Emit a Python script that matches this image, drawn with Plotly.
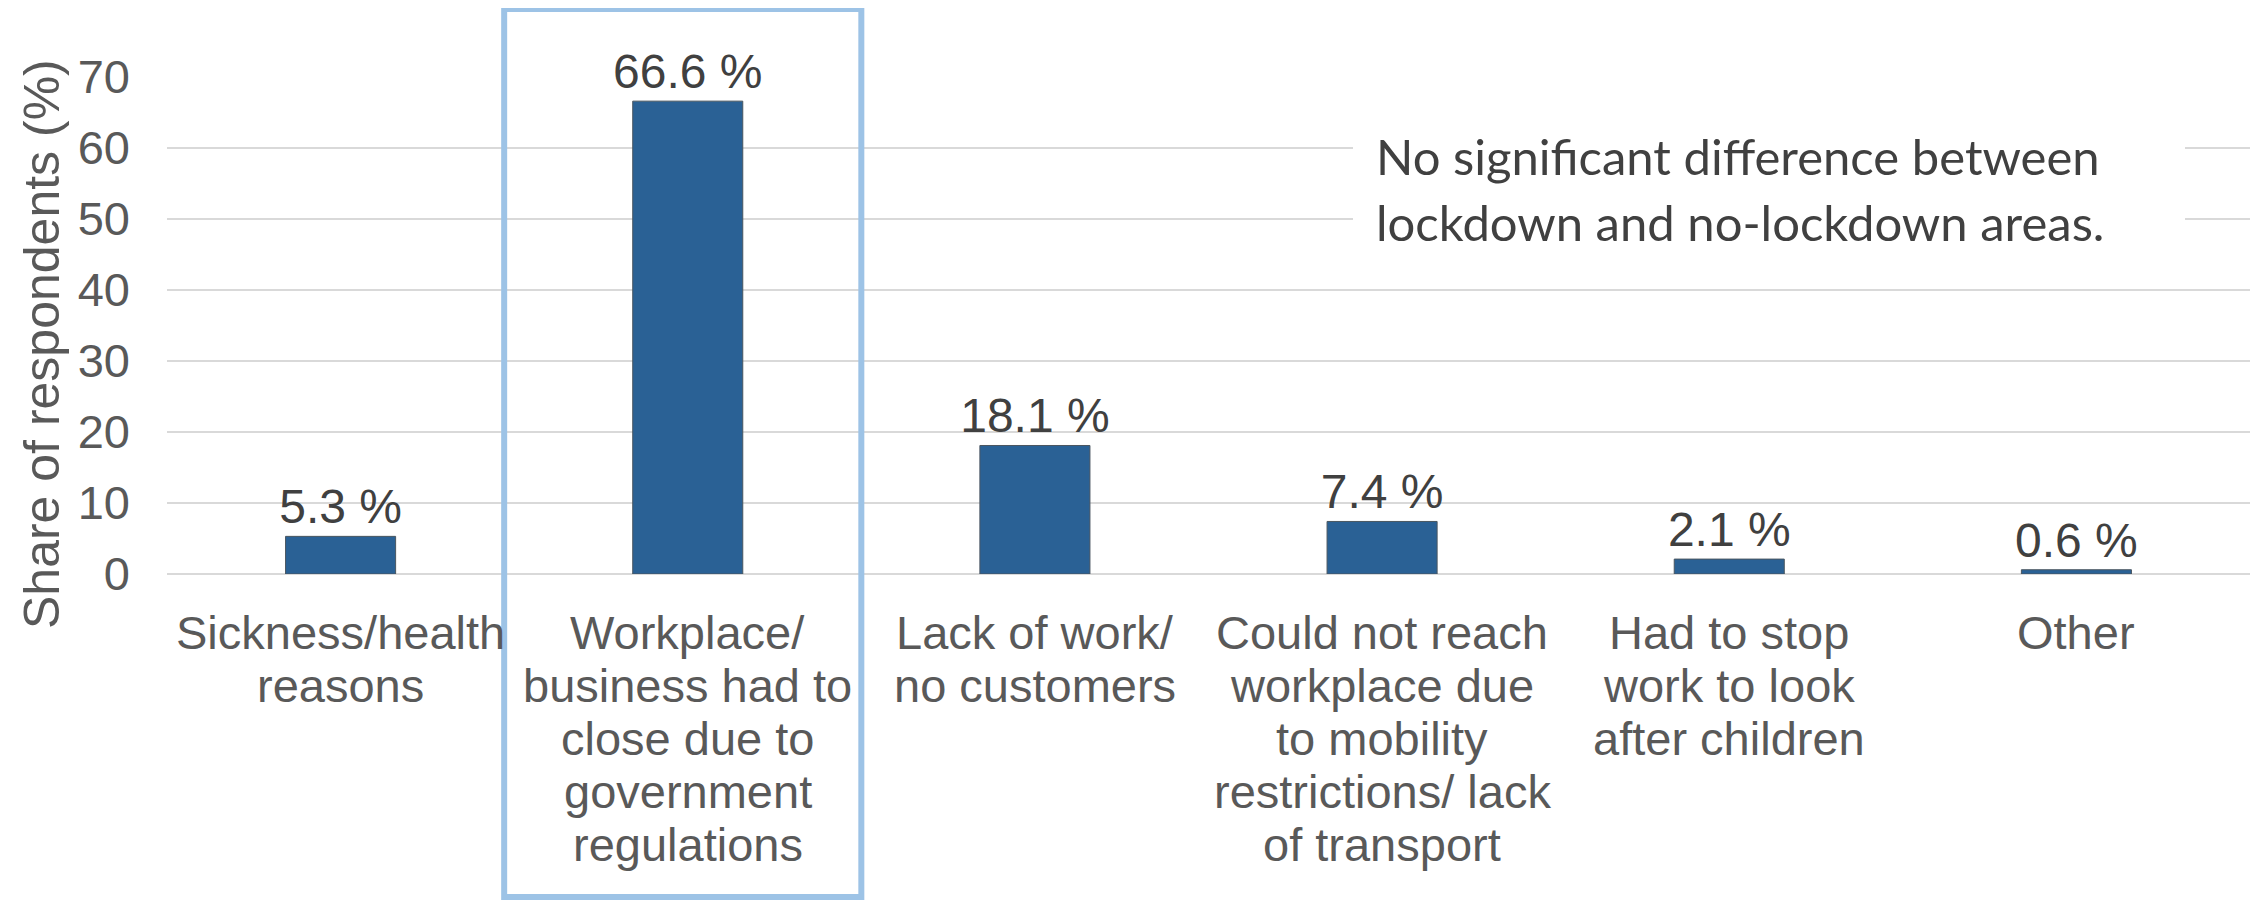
import plotly.graph_objects as go

# ---- data ----
categories = [
    "Sickness/health<br>reasons",
    "Workplace/<br>business had to<br>close due to<br>government<br>regulations",
    "Lack of work/<br>no customers",
    "Could not reach<br>workplace due<br>to mobility<br>restrictions/ lack<br>of transport",
    "Had to stop<br>work to look<br>after children",
    "Other",
]
values = [5.3, 66.6, 18.1, 7.4, 2.1, 0.6]
y_ticks = [0, 10, 20, 30, 40, 50, 60, 70]
y_title = "Share of respondents (%)"
note_lines = ["No significant difference between", "lockdown and no-lockdown areas."]
highlight_index = 1

# ---- layout (screen pixels; page body has an 8px margin) ----
OFF = 8
W, H = 2260, 900
PLOT_L, PLOT_R, PLOT_T, PLOT_B = 167, 2250, 77, 574
ML = PLOT_L - OFF
MT = PLOT_T - OFF
MR = W - (PLOT_R - OFF)
MB = H - (PLOT_B - OFF)
PW = W - ML - MR
PH = H - MT - MB
CW = (PLOT_R - PLOT_L) / len(categories)
ARIAL = "Liberation Sans, Arial, sans-serif"
TXT = "#595959"
LBL = "#404040"


def px_x(sx):
    return (sx - OFF - ML) / PW


def px_y(sy):
    return (H - MB - (sy - OFF)) / PH


fig = go.Figure()
fig.add_trace(go.Bar(
    x=categories,
    y=values,
    marker=dict(color="#2A6195", line=dict(color="#4A5660", width=1)),
    texttemplate="%{y:.1f} %",
    textposition="outside",
    constraintext="none",
    textfont=dict(family=ARIAL, size=48, color=LBL),
    cliponaxis=False,
    showlegend=False,
))

annotations = []
# category labels, one line at a time (tighter line spacing like the source)
line_gap = 53
for cat in categories:
    for i, line in enumerate(cat.split("<br>")):
        annotations.append(dict(
            x=cat, xref="x", y=px_y(632), yref="paper",
            yshift=-line_gap * i, text=line, showarrow=False,
            xanchor="center", yanchor="middle",
            font=dict(family=ARIAL, size=47, color=TXT),
        ))

# y-axis title
annotations.append(dict(
    x=px_x(42), xref="paper", y=px_y(344), yref="paper",
    text=y_title, textangle=-90, showarrow=False,
    xanchor="center", yanchor="middle",
    font=dict(family=ARIAL, size=50, color=TXT),
))

# note text
for i, line in enumerate(note_lines):
    annotations.append(dict(
        x=px_x(1374), xref="paper", y=px_y(156 + 66 * i), yref="paper",
        text=line, showarrow=False, xanchor="left", yanchor="middle",
        font=dict(family="Lato, sans-serif", size=49, color="#404040"),
    ))

shapes = [
    # white background behind note
    dict(type="rect", xref="paper", yref="paper",
         x0=px_x(1353), x1=px_x(2185), y0=px_y(272), y1=px_y(100),
         fillcolor="white", line=dict(width=0), layer="above"),
    # highlight box around category
    dict(type="rect", xref="x", yref="paper",
         x0=highlight_index - 0.5 - 10 / CW, x1=highlight_index + 0.5,
         y0=px_y(897), y1=px_y(9),
         line=dict(color="#9DC3E6", width=6), fillcolor="rgba(0,0,0,0)", layer="above"),
]

fig.update_layout(
    width=W, height=H,
    margin=dict(l=ML, r=MR, t=MT, b=MB),
    paper_bgcolor="white", plot_bgcolor="white",
    bargap=0.683,
    annotations=annotations,
    shapes=shapes,
    xaxis=dict(showticklabels=False, showgrid=False, zeroline=False,
               showline=False, ticks=""),
    yaxis=dict(range=[0, 70], tickvals=y_ticks, showgrid=True,
               gridcolor="#D9D9D9", gridwidth=2, zeroline=True,
               zerolinecolor="#D9D9D9", zerolinewidth=2, showline=False,
               ticks="", tickfont=dict(family=ARIAL, size=47, color=TXT),
               ticklabelstandoff=36),
)

fig.write_html("out.html")
